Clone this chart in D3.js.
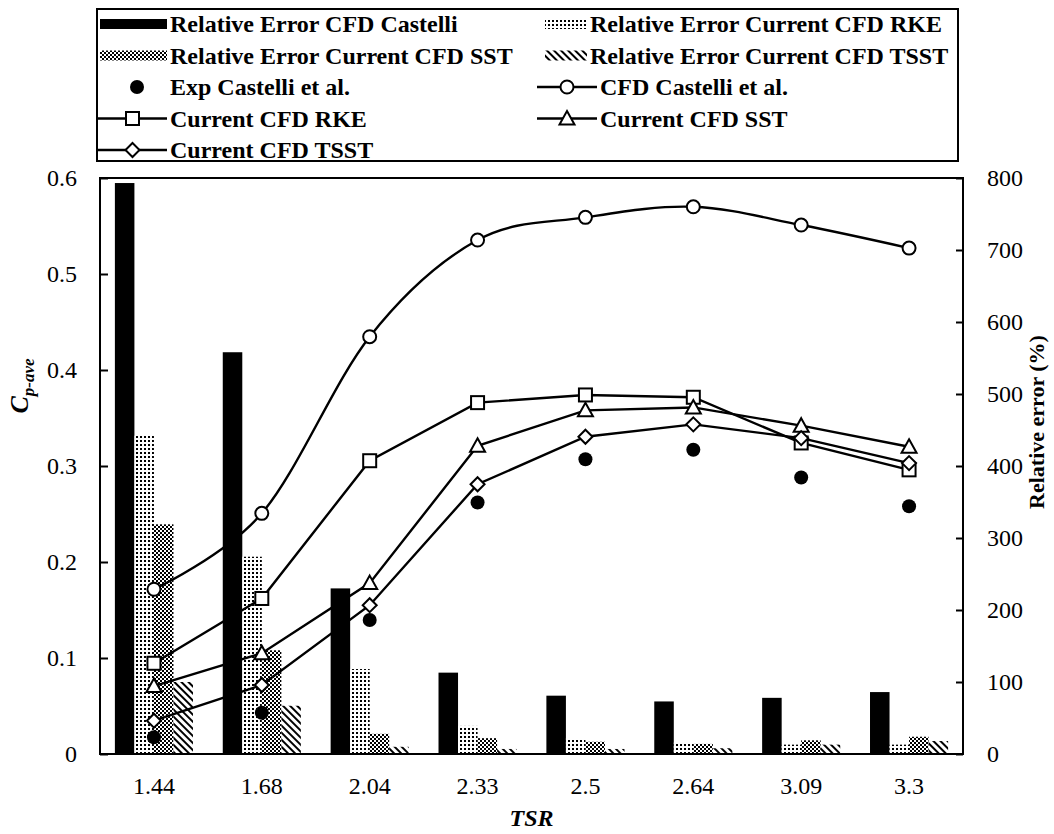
<!DOCTYPE html>
<html>
<head>
<meta charset="utf-8">
<script src="https://cdn.jsdelivr.net/npm/d3@7"></script>
<style>
  body { margin: 0; background: #fff; }
  text { font-family: "Liberation Serif", "Times New Roman", serif; }
</style>
</head>
<body>
<div id="chart"></div>
<script>
// Cp-ave vs TSR with relative error bars
const tsr = ["1.44", "1.68", "2.04", "2.33", "2.5", "2.64", "3.09", "3.3"];

// relative error (%), right axis
const errCastelli = [793, 558, 230, 113, 81, 73, 78, 86];
const errRKE = [442, 274, 118, 39, 22, 16, 13, 13];
const errSST = [319, 144, 28, 22, 17, 14, 19, 24];
const errTSST = [100, 67, 10, 7, 7, 8, 13, 18];

// power coefficient, left axis
const cpExp = [0.0174, 0.043, 0.1396, 0.262, 0.307, 0.317, 0.288, 0.258];
const cpCastelli = [0.1716, 0.2507, 0.4347, 0.5354, 0.559, 0.570, 0.551, 0.527];
const cpRKE = [0.0945, 0.162, 0.3055, 0.366, 0.374, 0.3716, 0.324, 0.296];
const cpSST = [0.0708, 0.105, 0.178, 0.321, 0.358, 0.361, 0.342, 0.320];
const cpTSST = [0.0347, 0.0719, 0.155, 0.281, 0.3305, 0.3434, 0.329, 0.303];

const leftTicks = [0, 0.1, 0.2, 0.3, 0.4, 0.5, 0.6];
const rightTicks = [0, 100, 200, 300, 400, 500, 600, 700, 800];

const W = 1054, H = 834;
const plot = {left: 100, right: 963, top: 178, bottom: 754};

const svg = d3.select("#chart").append("svg")
  .attr("width", W).attr("height", H).attr("viewBox", `0 0 ${W} ${H}`);

// fill patterns
const defs = svg.append("defs");
const pRKE = defs.append("pattern").attr("id", "pRKE").attr("patternUnits", "userSpaceOnUse")
  .attr("width", 4).attr("height", 4);
pRKE.append("rect").attr("width", 4).attr("height", 4).attr("fill", "#fff");
pRKE.append("rect").attr("width", 2).attr("height", 2).attr("fill", "#000");
const pSST = defs.append("pattern").attr("id", "pSST").attr("patternUnits", "userSpaceOnUse")
  .attr("width", 4).attr("height", 4);
pSST.append("rect").attr("width", 4).attr("height", 4).attr("fill", "#fff");
pSST.append("rect").attr("width", 2).attr("height", 2).attr("fill", "#000");
pSST.append("rect").attr("x", 2).attr("y", 2).attr("width", 2).attr("height", 2).attr("fill", "#000");
const pTSST = defs.append("pattern").attr("id", "pTSST").attr("patternUnits", "userSpaceOnUse")
  .attr("width", 5).attr("height", 5).attr("patternTransform", "rotate(-45)");
pTSST.append("rect").attr("width", 5).attr("height", 5).attr("fill", "#fff");
pTSST.append("rect").attr("width", 2).attr("height", 5).attr("fill", "#000");

const barSeries = [
  {key: "castelli", values: errCastelli, fill: "#000", label: "Relative Error CFD Castelli"},
  {key: "rke", values: errRKE, fill: "url(#pRKE)", label: "Relative Error Current CFD RKE"},
  {key: "sst", values: errSST, fill: "url(#pSST)", label: "Relative Error Current CFD SST"},
  {key: "tsst", values: errTSST, fill: "url(#pTSST)", label: "Relative Error Current CFD TSST"}
];

const x0 = d3.scaleBand().domain(tsr).range([plot.left, plot.right])
  .paddingInner(0.276).paddingOuter(0.138);
const x1 = d3.scaleBand().domain(barSeries.map(s => s.key)).range([0, x0.bandwidth()]);
const yL = d3.scaleLinear().domain([0, 0.6]).range([plot.bottom, plot.top]);
const yR = d3.scaleLinear().domain([0, 800]).range([plot.bottom, plot.top]);
const cx = c => x0(c) + x0.bandwidth() / 2;

// bars
barSeries.forEach(s => {
  svg.append("g").selectAll("rect").data(tsr).join("rect")
    .attr("x", c => x0(c) + x1(s.key))
    .attr("width", x1.bandwidth())
    .attr("y", (c, i) => yR(s.values[i]))
    .attr("height", (c, i) => yR(0) - yR(s.values[i]))
    .attr("fill", s.fill);
});

// markers
function marker(g, type, x, y) {
  if (type === "open") {
    g.append("circle").attr("cx", x).attr("cy", y).attr("r", 6.5)
      .attr("fill", "#fff").attr("stroke", "#000").attr("stroke-width", 2);
  } else if (type === "dot") {
    g.append("circle").attr("cx", x).attr("cy", y).attr("r", 7).attr("fill", "#000");
  } else if (type === "square") {
    g.append("rect").attr("x", x - 6.5).attr("y", y - 6.5).attr("width", 13).attr("height", 13)
      .attr("fill", "#fff").attr("stroke", "#000").attr("stroke-width", 2);
  } else if (type === "triangle") {
    g.append("path").attr("transform", `translate(${x},${y})`)
      .attr("d", "M0,-7.5L7.5,6L-7.5,6Z")
      .attr("fill", "#fff").attr("stroke", "#000").attr("stroke-width", 2);
  } else if (type === "diamond") {
    g.append("path").attr("transform", `translate(${x},${y})`)
      .attr("d", "M0,-7L7,0L0,7L-7,0Z")
      .attr("fill", "#fff").attr("stroke", "#000").attr("stroke-width", 2);
  }
}

const lineSeries = [
  {values: cpCastelli, marker: "open", curve: d3.curveCardinal.tension(0), label: "CFD Castelli et al."},
  {values: cpRKE, marker: "square", curve: d3.curveLinear, label: "Current CFD RKE"},
  {values: cpSST, marker: "triangle", curve: d3.curveLinear, label: "Current CFD SST"},
  {values: cpTSST, marker: "diamond", curve: d3.curveLinear, label: "Current CFD TSST"}
];

lineSeries.forEach(s => {
  svg.append("path").datum(s.values)
    .attr("fill", "none").attr("stroke", "#000").attr("stroke-width", 2.4)
    .attr("d", d3.line().x((d, i) => cx(tsr[i])).y(d => yL(d)).curve(s.curve));
});
const gm = svg.append("g");
lineSeries.forEach(s => s.values.forEach((v, i) => marker(gm, s.marker, cx(tsr[i]), yL(v))));
cpExp.forEach((v, i) => marker(gm, "dot", cx(tsr[i]), yL(v)));

// axes
const font = g => g.attr("font-family", "Liberation Serif, Times New Roman, serif")
  .attr("font-size", 24);

svg.append("g").attr("transform", `translate(${plot.left},0)`)
  .call(d3.axisLeft(yL).tickValues(leftTicks).tickFormat(d3.format("")).tickSizeInner(-8).tickSizeOuter(0).tickPadding(23))
  .call(font)
  .call(g => g.select(".domain").remove())
  .call(g => g.selectAll("line").attr("stroke-width", 2));

svg.append("g").attr("transform", `translate(${plot.right},0)`)
  .call(d3.axisRight(yR).tickValues(rightTicks).tickSizeInner(-7).tickSizeOuter(0).tickPadding(24))
  .call(font)
  .call(g => g.select(".domain").remove())
  .call(g => g.selectAll("line").attr("stroke-width", 2));

svg.append("g").attr("transform", `translate(0,${plot.bottom})`)
  .call(d3.axisBottom(x0).tickSize(0).tickPadding(23))
  .call(font)
  .call(g => g.select(".domain").remove());

// plot frame
svg.append("rect").attr("x", plot.left).attr("y", plot.top)
  .attr("width", plot.right - plot.left).attr("height", plot.bottom - plot.top)
  .attr("fill", "none").attr("stroke", "#000").attr("stroke-width", 2);

// axis titles
svg.append("text").attr("x", (plot.left + plot.right) / 2).attr("y", 826)
  .attr("text-anchor", "middle").attr("font-size", 24)
  .attr("font-weight", "bold").attr("font-style", "italic").text("TSR");

const ylab = svg.append("text").attr("transform", "translate(28,386) rotate(-90)")
  .attr("text-anchor", "middle").attr("font-weight", "bold").attr("font-style", "italic");
ylab.append("tspan").attr("font-size", 26).text("C");
ylab.append("tspan").attr("font-size", 17).attr("dy", 6).text("p-ave");

svg.append("text").attr("transform", "translate(1044,422) rotate(-90)")
  .attr("text-anchor", "middle").attr("font-size", 22).attr("font-weight", "bold")
  .text("Relative error (%)");

// legend
const lg = svg.append("g");
lg.append("rect").attr("x", 97).attr("y", 9).attr("width", 861).attr("height", 152)
  .attr("fill", "#fff").attr("stroke", "#000").attr("stroke-width", 2);
const rows = [24, 55.5, 87, 118.5, 150];
const legendItems = [
  {kind: "bar", s: barSeries[0], col: 0, row: 0},
  {kind: "bar", s: barSeries[1], col: 1, row: 0},
  {kind: "bar", s: barSeries[2], col: 0, row: 1},
  {kind: "bar", s: barSeries[3], col: 1, row: 1},
  {kind: "dot", s: {label: "Exp Castelli et al."}, col: 0, row: 2},
  {kind: "line", s: lineSeries[0], col: 1, row: 2},
  {kind: "line", s: lineSeries[1], col: 0, row: 3},
  {kind: "line", s: lineSeries[2], col: 1, row: 3},
  {kind: "line", s: lineSeries[3], col: 0, row: 4}
];
const cols = [
  {barX: 100, barW: 67, lineX: 98, lineW: 69, text: 170, textLine: 170},
  {barX: 545, barW: 42, lineX: 537, lineW: 60, text: 590, textLine: 600}
];
legendItems.forEach(it => {
  const c = cols[it.col], y = rows[it.row];
  let tx = c.text;
  if (it.kind === "bar") {
    lg.append("rect").attr("x", c.barX).attr("y", y - 5).attr("width", c.barW).attr("height", 10)
      .attr("fill", it.s.fill);
  } else if (it.kind === "dot") {
    marker(lg, "dot", 137, y);
  } else {
    lg.append("line").attr("x1", c.lineX).attr("x2", c.lineX + c.lineW).attr("y1", y).attr("y2", y)
      .attr("stroke", "#000").attr("stroke-width", 2.4);
    marker(lg, it.s.marker, c.lineX + c.lineW / 2, y);
    tx = c.textLine;
  }
  lg.append("text").attr("x", tx).attr("y", y + 8).attr("font-size", 24).attr("font-weight", "bold")
    .text(it.s.label);
});
</script>
</body>
</html>
